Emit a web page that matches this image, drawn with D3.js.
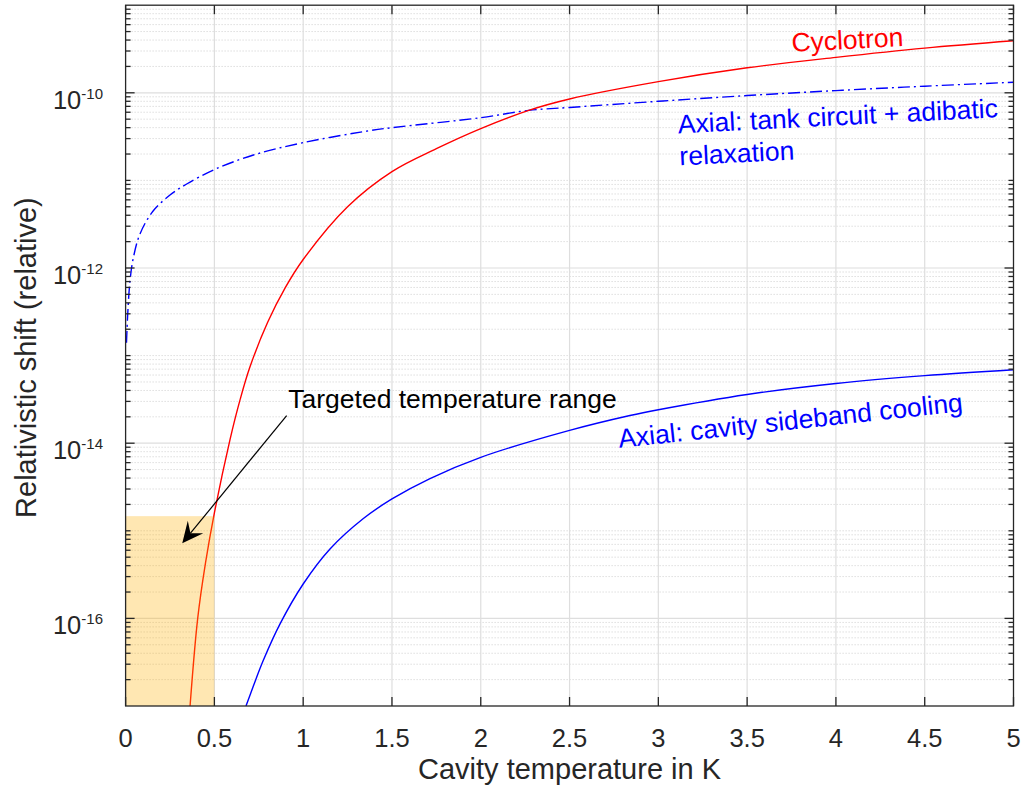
<!DOCTYPE html>
<html>
<head>
<meta charset="utf-8">
<script src="https://cdn.jsdelivr.net/npm/d3@7"></script>
<style>
  html, body { margin: 0; padding: 0; background: #fff; }
  svg { display: block; font-family: "Liberation Sans", Arial, Helvetica, sans-serif; }
</style>
</head>
<body>
<svg id="chart" width="1021" height="792"></svg>
<script>
// Cyclotron relativistic shift vs cavity temperature (K)
const cyclotronT     = [0.363, 0.406, 0.45, 0.5, 0.588, 0.644, 0.70, 0.8, 0.9, 1.0, 1.25, 1.5, 1.75, 2.0, 2.27, 2.5, 3.0, 3.5, 4.0, 4.5, 5.0];
const cyclotronShift = [1.0e-17, 1.0e-16, 4.3e-16, 1.6e-15, 1.1e-14, 3.1e-14, 7.4e-14, 2.4e-13, 6.0e-13, 1.25e-12, 5.0e-12, 1.26e-11, 2.3e-11, 3.9e-11, 6.3e-11, 8.5e-11, 1.34e-10, 1.93e-10, 2.54e-10, 3.24e-10, 3.93e-10];

// Axial mode: tank circuit + adiabatic relaxation
const tankT     = [0.005, 0.012, 0.025, 0.043, 0.081, 0.156, 0.25, 0.344, 0.5, 0.72, 1.0, 1.376, 1.5, 2.0, 2.27, 2.5, 3.0, 3.5, 4.0, 4.5, 5.0];
const tankShift = [1.4e-13, 3.0e-13, 7.2e-13, 1.29e-12, 2.45e-12, 4.5e-12, 6.8e-12, 9.1e-12, 1.33e-11, 1.95e-11, 2.7e-11, 3.7e-11, 4.0e-11, 5.2e-11, 6.3e-11, 6.8e-11, 8.0e-11, 9.3e-11, 1.06e-10, 1.19e-10, 1.32e-10];

// Axial mode: cavity sideband cooling
const sidebandT     = [0.678, 0.72, 0.775, 0.869, 1.0, 1.151, 1.339, 1.5, 1.714, 2.0, 2.5, 2.84, 3.0, 3.5, 4.0, 4.5, 5.0];
const sidebandShift = [1.0e-17, 1.7e-17, 3.3e-17, 8.6e-17, 2.47e-16, 6.2e-16, 1.38e-15, 2.31e-15, 3.95e-15, 6.9e-15, 1.40e-14, 2.07e-14, 2.41e-14, 3.6e-14, 4.8e-14, 5.9e-14, 6.9e-14];

// Targeted region (temperature span, shift span)
const targetT = [0, 0.5];
const targetShift = [1e-17, 1.47e-15];

// Axis ticks
const xTicks = [0, 0.5, 1, 1.5, 2, 2.5, 3, 3.5, 4, 4.5, 5];
const xTickLabels = ["0", "0.5", "1", "1.5", "2", "2.5", "3", "3.5", "4", "4.5", "5"];
const yTickExponents = [-16, -14, -12, -10];

const svg = d3.select("#chart");
const plot = { left: 125.6, right: 1013.5, top: 5.2, bottom: 706 };

const x = d3.scaleLinear().domain([0, 5]).range([plot.left, plot.right]);
const y = d3.scaleLog().domain([1e-17, 1e-9]).range([plot.bottom, plot.top]);

const axisColor = "#262626";

// clip region for data marks
svg.append("defs").append("clipPath").attr("id", "plotClip")
  .append("rect")
  .attr("x", plot.left).attr("y", plot.top)
  .attr("width", plot.right - plot.left).attr("height", plot.bottom - plot.top);

// minor y values: every k*10^e that is not a labelled decade
const minorY = [];
for (let e = -17; e < -9; e++) {
  for (let k = 1; k <= 9; k++) {
    if (k === 1 && (yTickExponents.includes(e) || e === -17)) continue;
    minorY.push(k * Math.pow(10, e));
  }
}

// grid
const grid = svg.append("g");
grid.selectAll("line.minor").data(minorY).join("line")
  .attr("class", "minor")
  .attr("x1", plot.left).attr("x2", plot.right)
  .attr("y1", d => y(d)).attr("y2", d => y(d))
  .attr("stroke", "#cdcdcd").attr("stroke-width", 1)
  .attr("stroke-dasharray", "1,2");
grid.selectAll("line.vx").data(xTicks.slice(1, -1)).join("line")
  .attr("class", "vx")
  .attr("x1", d => x(d)).attr("x2", d => x(d))
  .attr("y1", plot.top).attr("y2", plot.bottom)
  .attr("stroke", "#dedede").attr("stroke-width", 1.2);
grid.selectAll("line.hy").data(yTickExponents).join("line")
  .attr("class", "hy")
  .attr("x1", plot.left).attr("x2", plot.right)
  .attr("y1", d => y(Math.pow(10, d))).attr("y2", d => y(Math.pow(10, d)))
  .attr("stroke", "#dedede").attr("stroke-width", 1.2);

// curves
const lineGen = d3.line()
  .x(d => x(d[0])).y(d => y(d[1]))
  .curve(d3.curveCatmullRom.alpha(0.5));

const marks = svg.append("g").attr("clip-path", "url(#plotClip)");
marks.append("path")
  .attr("d", lineGen(d3.zip(tankT, tankShift)))
  .attr("fill", "none").attr("stroke", "#0000ff").attr("stroke-width", 1.4)
  .attr("stroke-dasharray", "12,4,2,4");
marks.append("path")
  .attr("d", lineGen(d3.zip(cyclotronT, cyclotronShift)))
  .attr("fill", "none").attr("stroke", "#ff0000").attr("stroke-width", 1.4);
marks.append("path")
  .attr("d", lineGen(d3.zip(sidebandT, sidebandShift)))
  .attr("fill", "none").attr("stroke", "#0000ff").attr("stroke-width", 1.4);

// targeted temperature range patch
marks.append("rect")
  .attr("x", x(targetT[0])).attr("width", x(targetT[1]) - x(targetT[0]))
  .attr("y", y(targetShift[1])).attr("height", y(targetShift[0]) - y(targetShift[1]))
  .attr("fill", "#ffb000").attr("fill-opacity", 0.3);

// annotation arrow (data coordinates)
const arrowTail = [0.907, 2.07e-14];
const arrowTip = [0.319, 7.2e-16];
{
  const tx = x(arrowTail[0]), ty = y(arrowTail[1]);
  const hx = x(arrowTip[0]), hy = y(arrowTip[1]);
  const len = Math.hypot(hx - tx, hy - ty);
  const ux = (hx - tx) / len, uy = (hy - ty) / len;
  const nx = -uy, ny = ux;
  const back = 21, half = 10, notch = 13;
  const bx = hx - ux * back, by = hy - uy * back;
  const p1 = [bx + nx * half, by + ny * half];
  const p2 = [bx - nx * half, by - ny * half];
  const pn = [hx - ux * notch, hy - uy * notch];
  svg.append("line")
    .attr("x1", tx).attr("y1", ty).attr("x2", pn[0]).attr("y2", pn[1])
    .attr("stroke", "#000").attr("stroke-width", 1.2);
  svg.append("path")
    .attr("d", `M${hx},${hy}L${p1[0]},${p1[1]}L${pn[0]},${pn[1]}L${p2[0]},${p2[1]}Z`)
    .attr("fill", "#000");
}

// axes box and ticks
const axes = svg.append("g").attr("stroke", axisColor).attr("stroke-width", 1.3).attr("fill", "none");
axes.append("rect")
  .attr("x", plot.left).attr("y", plot.top)
  .attr("width", plot.right - plot.left).attr("height", plot.bottom - plot.top);
const majLen = 9, minLen = 5;
xTicks.forEach(t => {
  axes.append("line").attr("x1", x(t)).attr("x2", x(t)).attr("y1", plot.bottom).attr("y2", plot.bottom - majLen);
  axes.append("line").attr("x1", x(t)).attr("x2", x(t)).attr("y1", plot.top).attr("y2", plot.top + majLen);
});
yTickExponents.forEach(e => {
  const yy = y(Math.pow(10, e));
  axes.append("line").attr("x1", plot.left).attr("x2", plot.left + majLen).attr("y1", yy).attr("y2", yy);
  axes.append("line").attr("x1", plot.right).attr("x2", plot.right - majLen).attr("y1", yy).attr("y2", yy);
});
minorY.forEach(v => {
  const yy = y(v);
  axes.append("line").attr("x1", plot.left).attr("x2", plot.left + minLen).attr("y1", yy).attr("y2", yy);
  axes.append("line").attr("x1", plot.right).attr("x2", plot.right - minLen).attr("y1", yy).attr("y2", yy);
});

// tick labels
svg.append("g").selectAll("text").data(xTicks).join("text")
  .attr("x", d => x(d)).attr("y", 747)
  .attr("text-anchor", "middle").attr("font-size", 25.5).attr("fill", axisColor)
  .text((d, i) => xTickLabels[i]);

const yLab = svg.append("g").selectAll("text").data(yTickExponents).join("text")
  .attr("x", 103).attr("y", d => y(Math.pow(10, d)) + 16)
  .attr("text-anchor", "end").attr("font-size", 25.5).attr("fill", axisColor);
yLab.append("tspan").text("10");
yLab.append("tspan").attr("dy", -10).attr("font-size", 15).text(d => String(d));

// axis titles
svg.append("text")
  .attr("x", (plot.left + plot.right) / 2).attr("y", 779)
  .attr("text-anchor", "middle").attr("font-size", 29).attr("fill", axisColor)
  .text("Cavity temperature in K");
svg.append("text")
  .attr("transform", `translate(36,${(plot.top + plot.bottom) / 2 + 2}) rotate(-90)`)
  .attr("text-anchor", "middle").attr("font-size", 29).attr("fill", axisColor)
  .text("Relativistic shift (relative)");

// curve labels
function label(t, v, angle, lines, color) {
  const el = svg.append("text")
    .attr("transform", `translate(${x(t)},${y(v)}) rotate(${angle})`)
    .attr("font-size", 26.5).attr("fill", color);
  lines.forEach((s, i) => el.append("tspan").attr("x", 0).attr("dy", i === 0 ? 0 : 32).text(s));
}
label(3.752, 2.94e-10, -2.9, ["Cyclotron"], "#ff0000");
label(3.112, 3.44e-11, -2.9, ["Axial: tank circuit + adibatic", "relaxation"], "#0000ff");
label(2.78, 8.85e-15, -6.07, ["Axial: cavity sideband cooling"], "#0000ff");
label(0.916, 2.5e-14, 0, ["Targeted temperature range"], "#000000");
</script>
</body>
</html>
